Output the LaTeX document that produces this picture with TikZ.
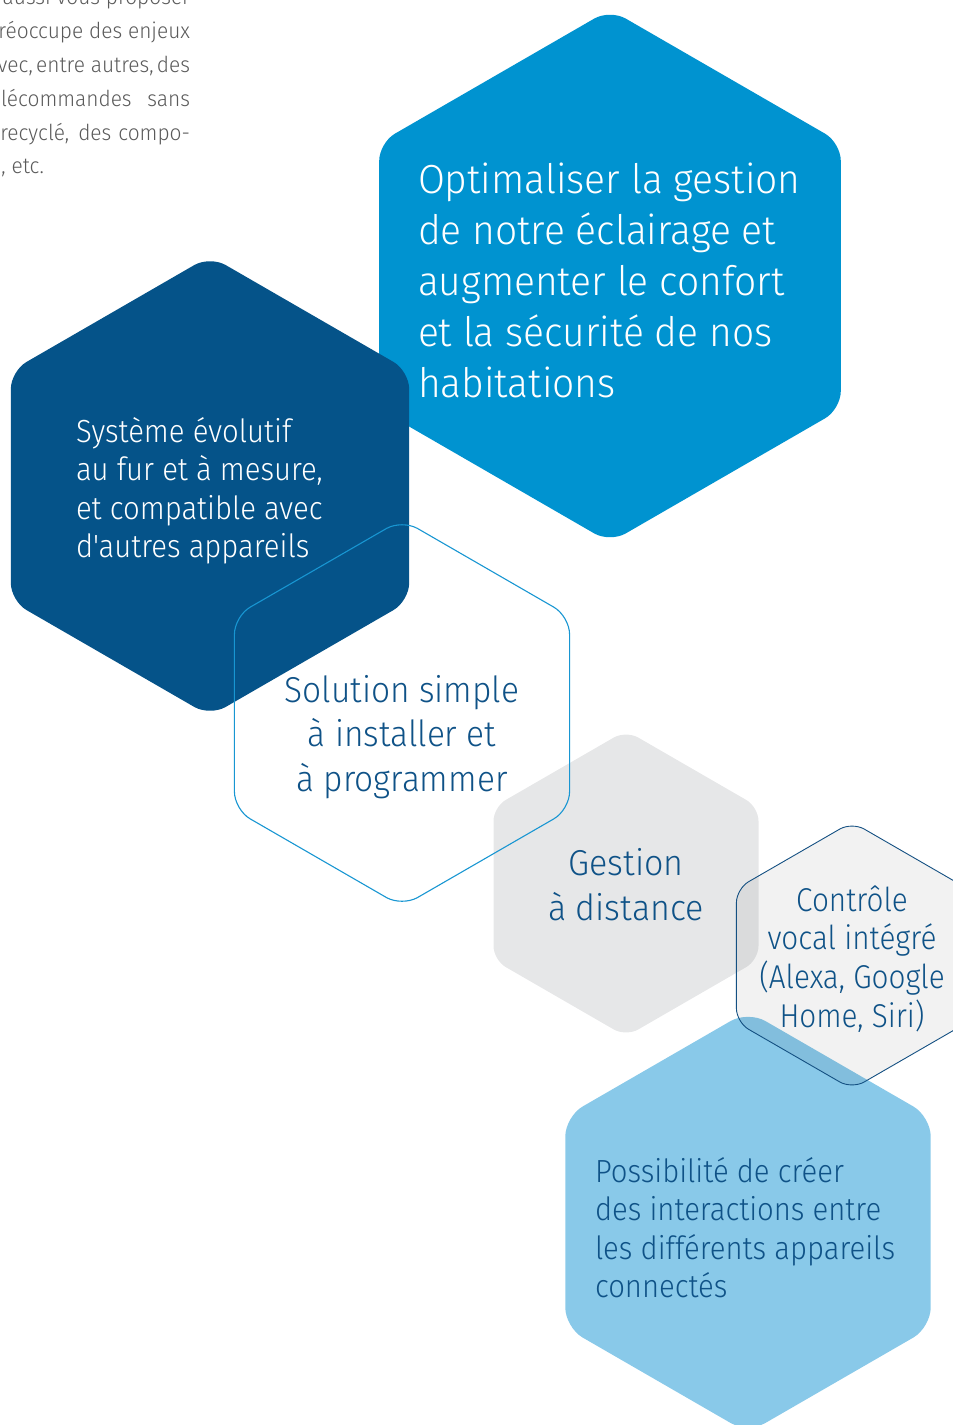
\documentclass[tikz,border=0pt]{standalone}
\usepackage{fontspec}
\setmainfont{Fira Sans Light}
\newfontfamily\fbody{Fira Sans Light}[FakeStretch=0.95]
\newfontfamily\fa{Fira Sans Light}[FakeStretch=0.96]
\newfontfamily\fb{Fira Sans Light}[FakeStretch=0.915]
\newfontfamily\fc{Fira Sans Light}[FakeStretch=0.93]
\newfontfamily\fd{Fira Sans Light}[FakeStretch=0.945]
\newfontfamily\fe{Fira Sans Light}[FakeStretch=0.9]
\newfontfamily\ff{Fira Sans Light}[FakeStretch=0.915]
\definecolor{hexA}{RGB}{0,147,208}
\definecolor{hexB}{RGB}{5,83,137}
\definecolor{hexC}{RGB}{24,150,210}
\definecolor{hexD}{RGB}{230,231,232}
\definecolor{hexE}{RGB}{20,80,130}
\definecolor{hexF}{RGB}{137,201,233}
\definecolor{txtdark}{RGB}{15,82,135}
\definecolor{txtgrey}{RGB}{90,90,90}
\newcommand\hexpath[3]{({#1},{#2-#3}) -- ({#1+0.8660254*#3},{#2-0.5*#3}) -- ({#1+0.8660254*#3},{#2+0.5*#3}) -- ({#1},{#2+#3}) -- ({#1-0.8660254*#3},{#2+0.5*#3}) -- ({#1-0.8660254*#3},{#2-0.5*#3}) -- cycle}
\tikzset{
  lbl/.style={inner sep=0pt, outer sep=0pt},
  linesL/.style={lbl, anchor=base west},
  linesC/.style={lbl, anchor=base},
  linesR/.style={lbl, anchor=base east},
}
\begin{document}
\begin{tikzpicture}[x=1pt,y=-1pt]
\useasboundingbox (0,0) rectangle (953,1425);
\clip (0,0) rectangle (953,1425);
% top-left paragraph fragment
\begin{scope}[every node/.style={linesR, text=txtgrey, font=\fbody\fontsize{22}{34}\selectfont}]
\node (p1) at (190,4) {aussi vous proposer};
\node (p2) at (190,38) {réoccupe des enjeux};
\node (p3) at (190,72) {vec,\hspace{-0.12em} entre autres,\hspace{-0.12em} des};
\node (p4) at (190,106) {lécommandes\hspace{0.45em} sans};
\node (p5) at (190,140) {recyclé,\hspace{0.15em} des\hspace{0.05em} compo-};
\node (p6) at (44,173) {, etc.};
\end{scope}
% hexagons
\fill[hexA, rounded corners=18pt] \hexpath{610}{276}{266.5};
\fill[hexB, rounded corners=18pt] \hexpath{210}{486}{230};
\fill[hexD, rounded corners=14pt] \hexpath{626}{883.5}{153};
\draw[hexC, line width=1.1pt, rounded corners=18pt] \hexpath{402}{713}{193.5};
\fill[hexF, rounded corners=20pt] \hexpath{748}{1222}{211};
\fill[black, fill opacity=0.05, rounded corners=14pt] \hexpath{852}{955.5}{133.5};
\draw[hexE, line width=0.9pt, rounded corners=14pt] \hexpath{852}{955.5}{133.5};
% texts
\node[linesL, text=white, font=\fa\fontsize{40.6}{51}\selectfont] (t1) at (418,193)
 {\begin{tabular}[t]{@{}l@{}}Optimaliser la gestion\\de notre éclairage et\\augmenter le confort\\et la sécurité de nos\\habitations\end{tabular}};
\node[linesL, text=white, font=\fb\fontsize{32}{38.5}\selectfont] (t2) at (76,442)
 {\begin{tabular}[t]{@{}l@{}}Système évolutif\\au fur et à mesure,\\et compatible avec\\d'autres appareils\end{tabular}};
\node[linesC, text=txtdark, font=\fc\fontsize{36}{44.5}\selectfont] (t3) at (402,702)
 {\begin{tabular}[t]{@{}c@{}}Solution simple\\à installer et\\à programmer\end{tabular}};
\node[linesC, text=txtdark, font=\fd\fontsize{36}{45}\selectfont] (t4) at (626,875)
 {\begin{tabular}[t]{@{}c@{}}Gestion\\à distance\end{tabular}};
\node[linesC, text=txtdark, font=\fe\fontsize{33}{38}\selectfont] (t5) at (852,911)
 {\begin{tabular}[t]{@{}c@{}}Contrôle\\vocal intégré\\(Alexa, Google\\Home, Siri)\end{tabular}};
\node[linesL, text=txtdark, font=\ff\fontsize{32}{38.5}\selectfont] (t6) at (595,1182)
 {\begin{tabular}[t]{@{}l@{}}Possibilité de créer\\des interactions entre\\les différents appareils\\connectés\end{tabular}};
\end{tikzpicture}
\end{document}
